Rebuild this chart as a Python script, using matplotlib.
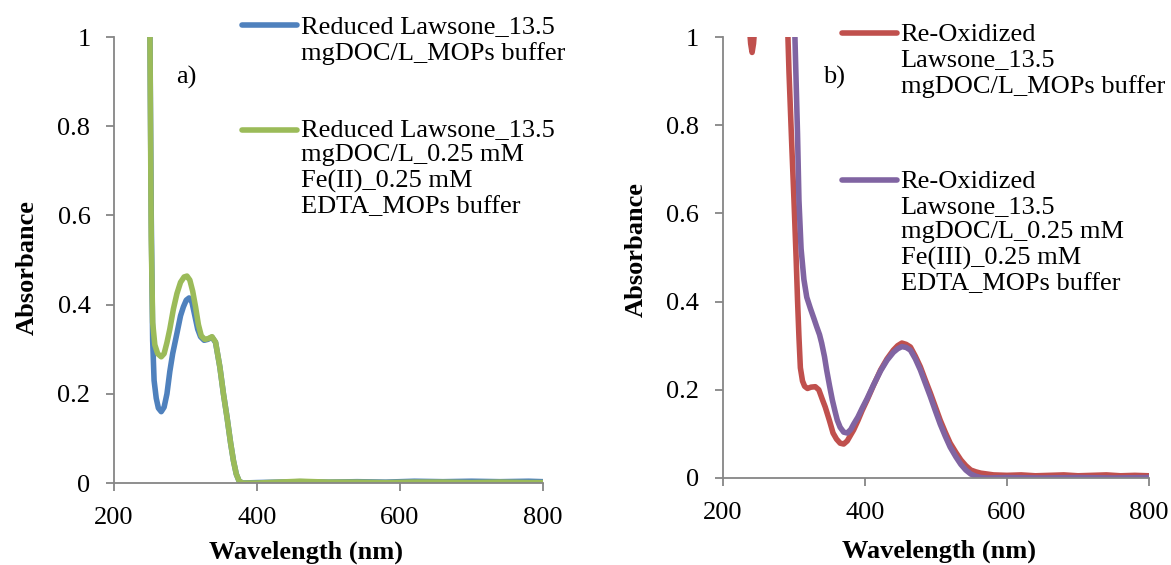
import matplotlib
matplotlib.use("Agg")
import matplotlib.pyplot as plt

plt.rcParams['font.family'] = ['Liberation Serif', 'DejaVu Serif']

# panel a) reduced lawsone
wl_blue = [248, 250, 252, 254, 256, 259, 262, 266, 270, 274, 278, 282, 288, 293, 297,
           301, 305, 309, 313, 317, 321, 326, 331, 337, 342, 348, 353, 358, 363, 367,
           371, 375, 380, 400, 430, 460, 500, 540, 580, 620, 660, 700, 740, 780, 800]
abs_blue = [1.5, 1.05, 0.6, 0.32, 0.23, 0.19, 0.168, 0.16, 0.17, 0.2, 0.25, 0.29, 0.336, 0.375, 0.395,
            0.41, 0.415, 0.405, 0.375, 0.345, 0.328, 0.32, 0.322, 0.327, 0.315, 0.26, 0.2, 0.148, 0.09, 0.05,
            0.02, 0.004, 0.0, 0.001, 0.002, 0.003, 0.002, 0.003, 0.002, 0.004, 0.003, 0.004, 0.003, 0.004, 0.003]

wl_green = [248, 250, 252, 254, 257, 261, 266, 270, 274, 278, 283, 288, 293, 298, 302,
            306, 310, 314, 318, 322, 327, 332, 337, 342, 348, 353, 358, 363, 367, 371,
            375, 380, 400, 430, 460, 480, 500, 540, 580, 620, 660, 700, 740, 780, 800]
abs_green = [1.5, 1.05, 0.55, 0.36, 0.31, 0.29, 0.283, 0.29, 0.315, 0.345, 0.39, 0.425, 0.45, 0.462, 0.464,
             0.455, 0.43, 0.395, 0.355, 0.33, 0.322, 0.324, 0.328, 0.316, 0.26, 0.2, 0.147, 0.09, 0.05, 0.02,
             0.004, 0.0, 0.0, 0.002, 0.004, 0.003, 0.002, 0.002, 0.001, 0.002, 0.002, 0.001, 0.002, 0.001, 0.001]

# panel b) re-oxidized lawsone
wl_red = [230, 236, 239, 241, 243, 246, 252, 270, 285, 290, 293, 297, 300, 303, 305, 307, 309,
          312, 315, 319, 324, 330, 335, 340, 344, 350, 355, 360, 365, 370, 375, 380, 384,
          390, 396, 403, 412, 422, 431, 440, 446, 452, 458, 464, 471, 478, 485, 492, 499,
          506, 513, 520, 528, 535, 542, 549, 556, 563, 572, 581, 600, 620, 640, 660, 680,
          700, 720, 740, 760, 780, 800]
abs_red = [1.3, 1.05, 0.985, 0.965, 0.985, 1.05, 1.4, 1.6, 1.3, 1.08, 0.92, 0.75, 0.63, 0.5, 0.404, 0.32, 0.25,
           0.22, 0.208, 0.203, 0.206, 0.207, 0.2, 0.178, 0.161, 0.13, 0.102, 0.088, 0.079, 0.077, 0.084, 0.098, 0.109,
           0.13, 0.153, 0.177, 0.21, 0.245, 0.27, 0.29, 0.3, 0.306, 0.303, 0.297, 0.276, 0.252, 0.222, 0.193, 0.162,
           0.131, 0.104, 0.079, 0.058, 0.041, 0.028, 0.018, 0.014, 0.011, 0.009, 0.007, 0.006, 0.007, 0.005, 0.006, 0.007,
           0.005, 0.006, 0.007, 0.005, 0.006, 0.005]

wl_purple = [280, 295, 300, 303, 305, 307, 310, 314, 318, 323, 328, 332, 336, 339, 343, 346,
             350, 354, 358, 361, 365, 370, 375, 380, 384, 390, 396, 403, 412, 422, 431, 440,
             446, 452, 458, 464, 471, 478, 485, 492, 499, 506, 513, 520, 528, 535, 542, 549,
             556, 563, 572, 600, 650, 700, 750, 800]
abs_purple = [1.6, 1.3, 1.08, 0.9, 0.78, 0.63, 0.52, 0.45, 0.41, 0.385, 0.362, 0.343, 0.325, 0.306, 0.275, 0.245,
              0.21, 0.177, 0.15, 0.131, 0.115, 0.104, 0.102, 0.11, 0.122, 0.138, 0.158, 0.18, 0.211, 0.243, 0.267, 0.285,
              0.293, 0.298, 0.296, 0.29, 0.27, 0.245, 0.215, 0.185, 0.153, 0.122, 0.095, 0.07, 0.048, 0.031, 0.018, 0.009,
              0.004, 0.001, 0.0, 0.001, 0.0, 0.001, 0.0, 0.001]

labels_a = ["Reduced Lawsone_13.5\nmgDOC/L_MOPs buffer",
            "Reduced Lawsone_13.5\nmgDOC/L_0.25 mM\nFe(II)_0.25 mM\nEDTA_MOPs buffer"]
labels_b = ["Re-Oxidized\nLawsone_13.5\nmgDOC/L_MOPs buffer",
            "Re-Oxidized\nLawsone_13.5\nmgDOC/L_0.25 mM\nFe(III)_0.25 mM\nEDTA_MOPs buffer"]

xticks = [200, 400, 600, 800]
yticks = [0, 0.2, 0.4, 0.6, 0.8, 1]
ytick_labels = ["0", "0.2", "0.4", "0.6", "0.8", "1"]

BLUE, GREEN, RED, PURPLE = '#4F81BD', '#9BBB59', '#C0504D', '#8064A2'
AXC = '#868686'
FS = 19
LW = 4.0


def style_axes(ax):
    ax.set_xlim(200, 800)
    ax.set_ylim(0, 1)
    ax.set_xticks(xticks)
    ax.set_yticks(yticks)
    ax.set_yticklabels(ytick_labels)
    for s in ['top', 'right']:
        ax.spines[s].set_visible(False)
    for s in ['left', 'bottom']:
        ax.spines[s].set_color(AXC)
        ax.spines[s].set_linewidth(1.3)
    ax.tick_params(direction='out', length=6, width=1.3, color=AXC,
                   labelsize=FS, pad=11)
    ax.set_xlabel('Wavelength (nm)', fontsize=FS, fontweight='bold')
    ax.set_ylabel('Absorbance', fontsize=FS, fontweight='bold')


def legend_entry(ax, x0, x1, y_line, y_text, color, text):
    ax.plot([x0, x1], [y_line, y_line], color=color, lw=LW, transform=ax.transAxes,
            clip_on=False, solid_capstyle='round')
    ax.text(x1 + 0.008, y_text, text, transform=ax.transAxes, fontsize=19,
            va='top', ha='left', linespacing=1.2)


fig = plt.figure(figsize=(11.71, 5.65), dpi=100)
ax1 = fig.add_axes([0.0974, 0.1451, 0.3663, 0.7894])
ax2 = fig.add_axes([0.6174, 0.1540, 0.3638, 0.7805])

ax1.plot(wl_blue, abs_blue, color=BLUE, lw=LW, solid_joinstyle='round')
ax1.plot(wl_green, abs_green, color=GREEN, lw=LW, solid_joinstyle='round')
style_axes(ax1)
ax1.xaxis.set_label_coords(0.448, -0.128)
ax1.yaxis.set_label_coords(-0.175, 0.482)
ax1.text(0.145, 0.91, 'a)', transform=ax1.transAxes, fontsize=FS, va='center', ha='left')
legend_entry(ax1, 0.298, 0.427, 1.027, 1.047, BLUE, labels_a[0])
legend_entry(ax1, 0.298, 0.427, 0.791, 0.816, GREEN, labels_a[1])

ax2.plot(wl_red, abs_red, color=RED, lw=LW, solid_joinstyle='round')
ax2.plot(wl_purple, abs_purple, color=PURPLE, lw=LW, solid_joinstyle='round')
style_axes(ax2)
ax2.xaxis.set_label_coords(0.506, -0.14)
ax2.yaxis.set_label_coords(-0.176, 0.517)
ax2.text(0.235, 0.909, 'b)', transform=ax2.transAxes, fontsize=FS, va='center', ha='left')
legend_entry(ax2, 0.28, 0.409, 1.009, 1.030, RED, labels_b[0])
legend_entry(ax2, 0.28, 0.409, 0.676, 0.697, PURPLE, labels_b[1])

fig.savefig('out.png', dpi=100)
